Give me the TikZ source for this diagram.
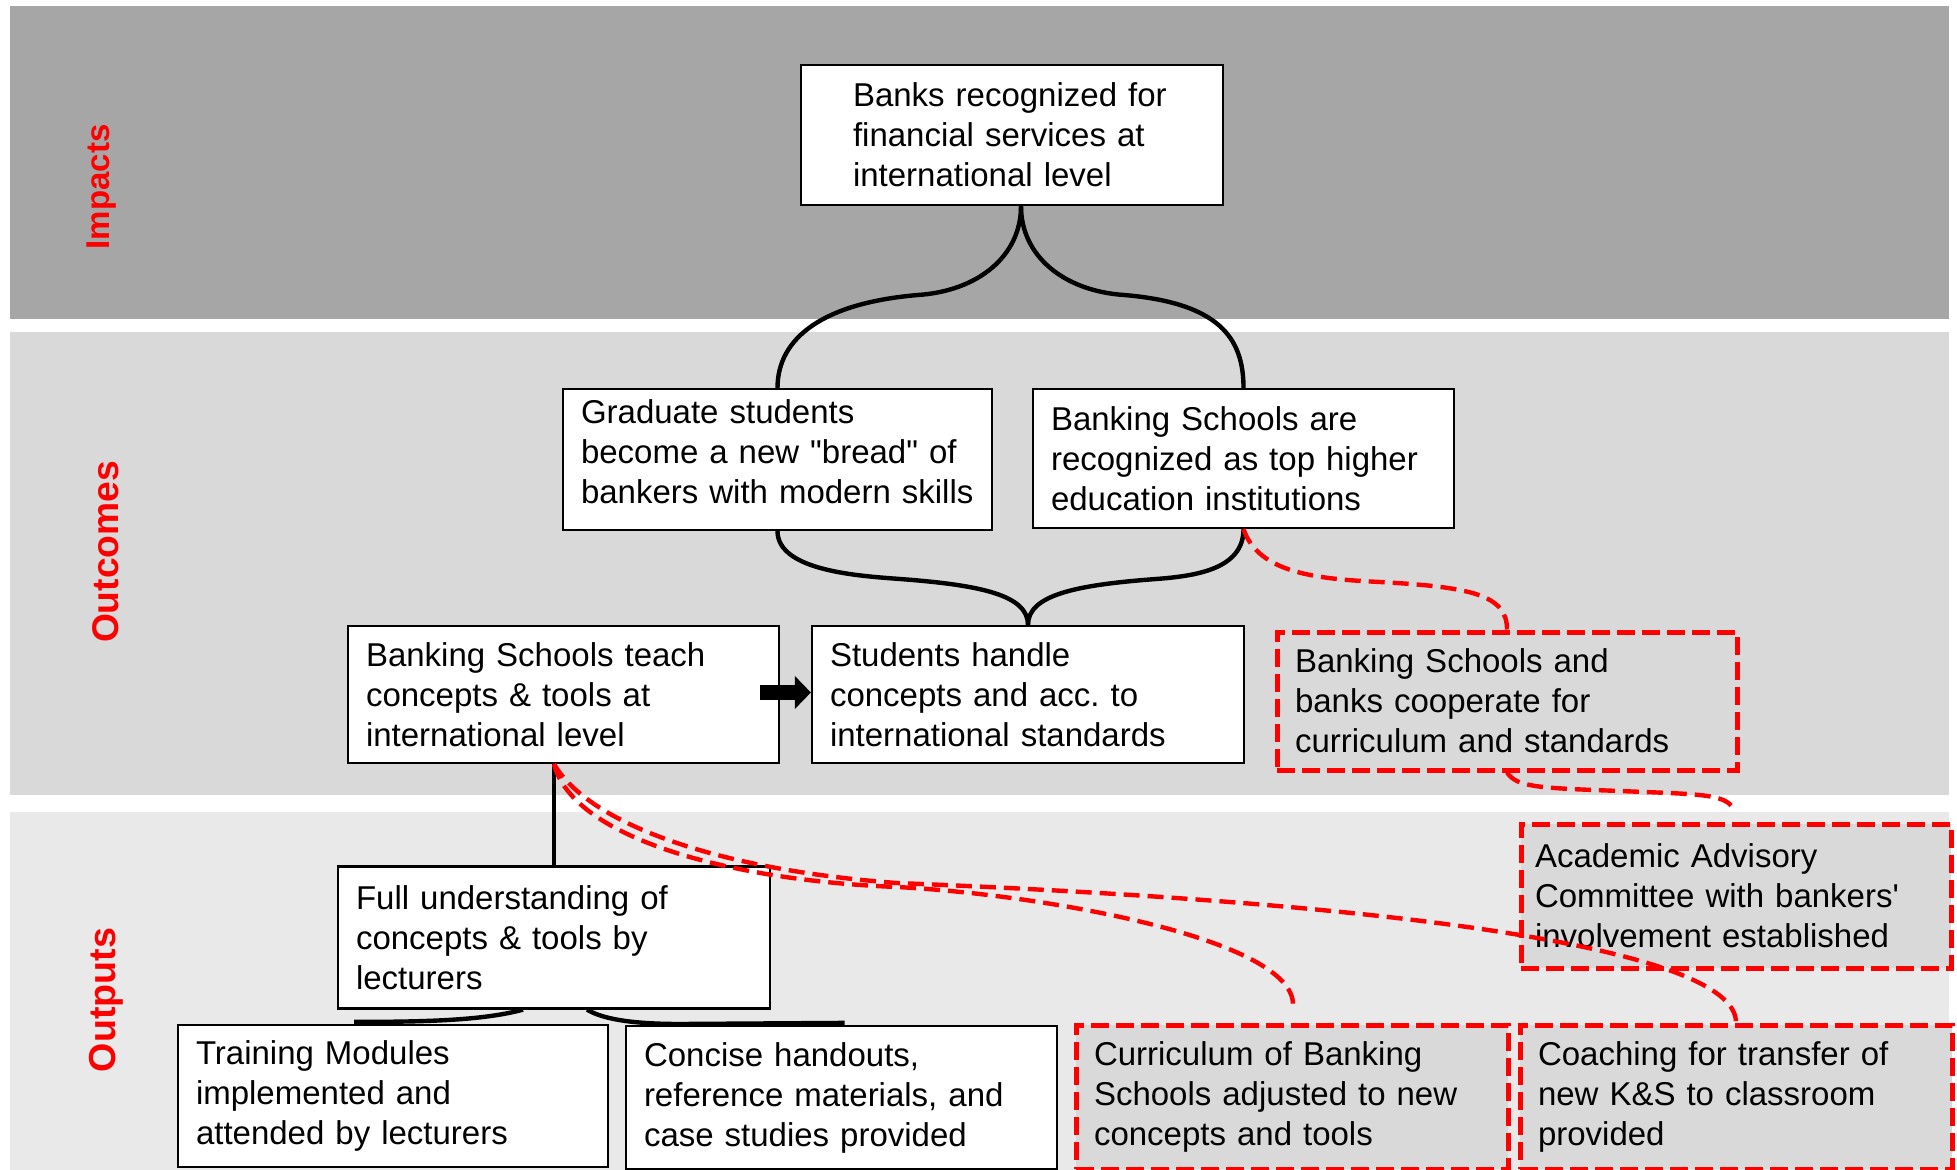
\documentclass[tikz,border=0pt]{standalone}
\usepackage{fontspec}
\setmainfont{Liberation Sans}[Ligatures=TeXOff]
\usetikzlibrary{calc,arrows.meta}
\definecolor{impactband}{HTML}{A6A6A6}
\definecolor{outcomeband}{HTML}{D9D9D9}
\definecolor{outputband}{HTML}{E9E9E9}
\definecolor{plannedfill}{HTML}{D9D9D9}
\begin{document}
\begin{tikzpicture}[x=0.5pt,y=-0.5pt,
  boxtext/.style={font=\fontsize{16.5}{20}\selectfont},
  box/.style={boxtext, draw=black, line width=1.1pt, fill=white, align=left,
    inner xsep=9pt, inner ysep=0pt, text width=#1},
  redbox/.style={box=#1, draw=red, line width=2.5pt, dash pattern=on 9pt off 3.5pt, fill=plannedfill},
  lbl/.style={text=red, font=\bfseries\fontsize{#1}{#1}\selectfont, rotate=90, inner sep=0pt},
  link/.style={draw=black, line width=2.2pt},
  redlink/.style={draw=red, line width=2.2pt, dash pattern=on 8pt off 4pt},
  block/.style={draw=black, line width=7.5pt, -{Triangle[length=8pt,width=16pt]}},
]
\useasboundingbox (0,0) rectangle (1957,1170);

% level bands
\fill[impactband] (10,6) rectangle (1949,319);
\fill[outcomeband] (10,332) rectangle (1949,795);
\fill[outputband] (10,812) rectangle (1949,1170);

\node[lbl=16.5] (limp) at (102,187) {Impacts};
\node[lbl=18.6] (lout) at (106,552) {Outcomes};
\node[lbl=18.8] (lput) at (106,1000) {Outputs};

% impact
\node[box=159pt, inner xsep=26pt, minimum height=70pt] (banks) at (1012,135)
  {Banks recognized for\\financial services at\\international level};

% outcomes
\node[box=196.5pt, minimum height=70.5pt] (grad) at (777.5,459.5)
  {Graduate students\\become a new "bread" of\\bankers with modern skills\\[-12.5pt]\mbox{}};
\node[box=192.5pt, minimum height=69.5pt] (bsrec) at (1243.5,458.5)
  {Banking Schools are\\recognized as top higher\\education institutions};
\node[box=197.5pt, minimum height=68.5pt] (teach) at (563.5,694.5)
  {Banking Schools teach\\concepts \& tools at\\international level};
\node[box=198pt, minimum height=68.5pt] (handle) at (1028,694.5)
  {Students handle\\concepts and acc.\ to\\international standards};
\node[redbox=212pt, fill=none, minimum height=69pt] (coop) at (1507,701)
  {Banking Schools and\\banks cooperate for\\curriculum and standards};

% outputs
\node[redbox=201pt, inner xsep=7pt, minimum height=72pt] (acad) at (1736,896)
  {Academic Advisory\\Committee with bankers'\\involvement established};
\node[box=198pt, minimum height=71pt] (full) at (554,937.5)
  {Full understanding of\\concepts \& tools by\\lecturers};
\node[box=197pt, minimum height=71pt] (train) at (393,1096)
  {Training Modules\\implemented and\\attended by lecturers};
\node[box=197.5pt, minimum height=71.5pt] (concise) at (841.5,1097.5)
  {Concise handouts,\\reference materials, and\\case studies provided};
\node[redbox=198pt, minimum height=72pt] (curr) at (1292,1097)
  {Curriculum of Banking\\Schools adjusted to new\\concepts and tools};
\node[redbox=198pt, minimum height=72pt] (coach) at (1736,1097)
  {Coaching for transfer of\\new K\&S to classroom\\provided};

% junction points
\coordinate (bj) at ($(banks.south)+(9,0)$);
\coordinate (tj) at (teach.south -| full.north);
\coordinate (fl) at ($(full.south)+(-31,0)$);
\coordinate (fr) at ($(full.south)+(33,0)$);
\coordinate (trainend) at ($(train.north)+(-39,-2)$);
\coordinate (concend) at ($(concise.north)+(3,-2)$);
\coordinate (acadend) at ($(acad.north)+(-5,-16)$);
\coordinate (currend) at ($(curr.north)+(1,-18)$);

% impact to outcomes
\draw[link] (bj) .. controls +(0,50) and +(60,-4) .. (918,295)
  .. controls +(-95,8) and +(0,-50) .. (grad.north);
\draw[link] (bj) .. controls +(0,50) and +(-60,-4) .. (1124,295)
  .. controls +(95,8) and +(0,-50) .. (bsrec.north);

% outcomes to student handling
\draw[link] (grad.south) .. controls +(0,40) and +(-40,-3) .. (900,579)
  .. controls +(80,6) and +(0,-30) .. (handle.north);
\draw[link] (bsrec.south) .. controls +(0,40) and +(40,-3) .. (1156,579)
  .. controls +(-80,6) and +(0,-30) .. (handle.north);

% teaching leads to handling
\draw[block] ($(teach.east)+(-20,-2)$) -- ($(handle.west)+(0,-2)$);

% outputs under teaching
\draw[link] (tj) -- (full.north);
\draw[link] (fl) .. controls +(-40,11) and +(70,0) .. (trainend);
\draw[link] (fr) .. controls +(18,11) and +(-40,0) .. (680,1024) -- (concend);

% cooperation links
\draw[redlink] (bsrec.south) .. controls +(15,45) and +(-60,-3) .. (1380,582)
  .. controls +(90,5) and +(0,-35) .. (coop.north);
\draw[redlink] (coop.south) .. controls +(10,15) and +(-80,-3) .. (1620,791)
  .. controls +(70,3) and +(-10,-12) .. (acadend);
\draw[redlink] (tj) .. controls (572,835) and (720,880) .. (897,887)
  .. controls (1050,895) and (1293,940) .. (currend);
\draw[redlink] (tj) .. controls (590,825) and (720,870) .. (897,883)
  .. controls (1450,905) and (1736,955) .. (coach.north);
\end{tikzpicture}
\end{document}
